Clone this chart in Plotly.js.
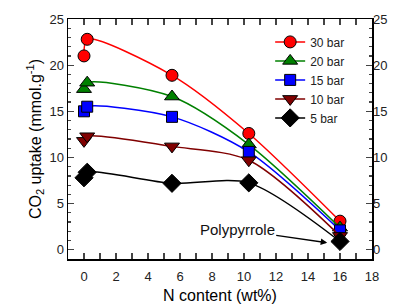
<!DOCTYPE html>
<html>
<head>
<meta charset="utf-8">
<script src="https://cdn.plot.ly/plotly-3.0.1.min.js"></script>
<style>html,body{margin:0;padding:0;background:#fff}#chart{width:398px;height:305px}</style>
</head>
<body>
<div id="chart"></div>
<script>
const nContent = [0, 0.2, 5.5, 10.3, 16];
const seriesNames = ["30 bar", "20 bar", "15 bar", "10 bar", "5 bar"];
const bar30 = [21.0, 22.8, 18.9, 12.6, 3.1];
const bar20 = [17.4, 18.1, 16.6, 11.4, 2.4];
const bar15 = [15.0, 15.5, 14.4, 10.6, 2.1];
const bar10 = [11.8, 12.3, 11.2, 9.7, 1.5];
const bar5 = [7.8, 8.4, 7.2, 7.25, 0.9];
const xTicks = [0, 2, 4, 6, 8, 10, 12, 14, 16, 18];
const yTicks = [0, 5, 10, 15, 20, 25];

const values = [bar30, bar20, bar15, bar10, bar5];
const colors = ["#ff0000", "#008000", "#0000ff", "#800000", "#000000"];
const symbols = ["circle", "triangle-up", "square", "triangle-down", "diamond"];
const sizes = [12, 13, 11, 13, 14];

const traces = values.map((v, i) => ({
  x: nContent, y: v, name: seriesNames[i], type: "scatter", mode: "lines+markers",
  line: {color: colors[i], width: 1.5, shape: "spline", smoothing: 0.8},
  marker: {symbol: symbols[i], size: sizes[i], color: colors[i], line: {color: "#000", width: 1}}
}));
traces.push({x: [nContent[0]], y: [bar5[0]], yaxis: "y2", mode: "markers", marker: {opacity: 0}, showlegend: false, hoverinfo: "skip"});

const fontFam = "Liberation Sans, Arial, sans-serif";
const layout = {
  width: 398, height: 305,
  margin: {l: 68, r: 26, t: 19, b: 46},
  paper_bgcolor: "#fff", plot_bgcolor: "#fff",
  font: {family: fontFam, color: "#222", size: 13},
  showlegend: true,
  legend: {x: 0.665, y: 0.965, xanchor: "left", yanchor: "top", bgcolor: "rgba(0,0,0,0)",
           font: {family: fontFam, size: 12, color: "#222"}, tracegroupgap: 0},
  xaxis: {range: [-1, 18], tickvals: xTicks, ticks: "inside", ticklen: 6, tickwidth: 1.2,
          minor: {dtick: 1, ticks: "inside", ticklen: 3, tickwidth: 1.2}, ticklabelstandoff: 5,
          showline: true, linecolor: "#000", linewidth: 1.5, mirror: "allticks", showgrid: false, zeroline: false,
          title: {text: "N content (wt%)", font: {size: 16, color: "#000"}, standoff: 6},
          tickfont: {size: 13, color: "#222"}},
  yaxis: {range: [-1, 25], tickvals: yTicks, ticks: "inside", ticklen: 6, tickwidth: 1.2,
          minor: {dtick: 1, ticks: "inside", ticklen: 3, tickwidth: 1.2},
          showline: true, linecolor: "#000", linewidth: 1.5, mirror: "allticks", showgrid: false, zeroline: false,
          title: {text: "CO<sub>2</sub> uptake (mmol.g<sup>-1</sup>)", font: {size: 16, color: "#000"}, standoff: 4},
          tickfont: {size: 13, color: "#222"}},
  yaxis2: {overlaying: "y", side: "right", matches: "y", range: [-1, 25], tickvals: yTicks, ticks: "",
           showline: false, showgrid: false, zeroline: false, tickfont: {size: 13, color: "#222"}},
  annotations: [{x: 15.2, y: 0.76, xref: "x", yref: "y", text: "Polypyrrole", showarrow: true,
                 ax: -90, ay: -13, arrowhead: 2, arrowsize: 1, arrowwidth: 1.3, arrowcolor: "#000",
                 font: {size: 15, color: "#111", family: fontFam}}]
};
Plotly.newPlot("chart", traces, layout, {displayModeBar: false, staticPlot: true});
</script>
</body>
</html>
